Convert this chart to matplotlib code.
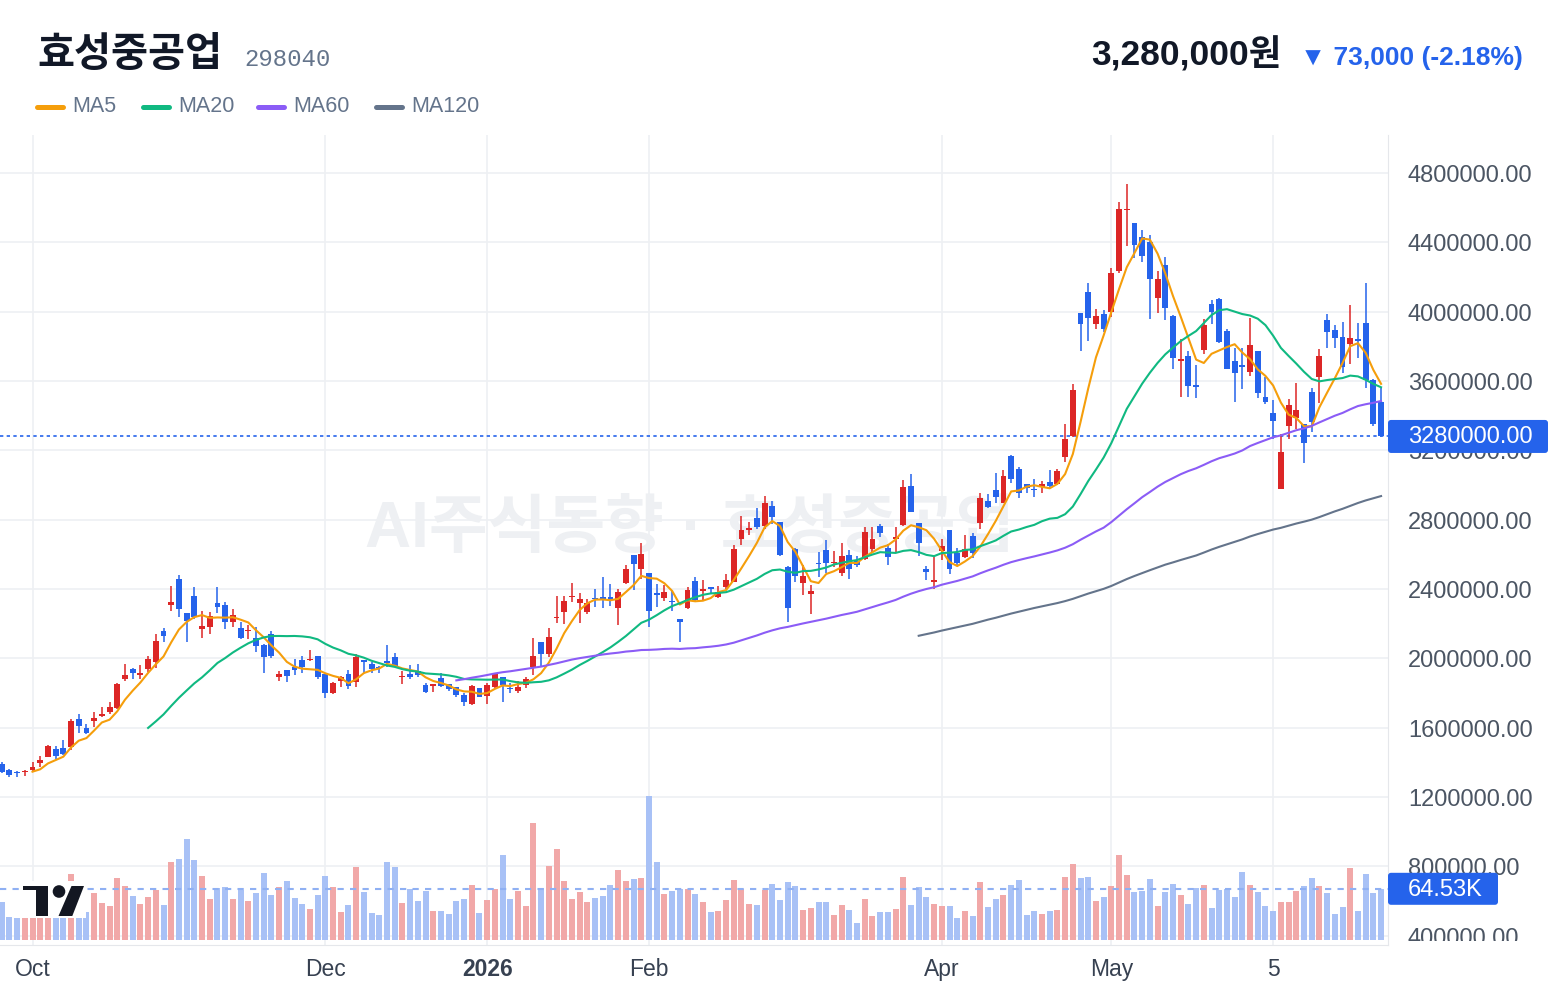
import numpy as np
import pandas as pd
import matplotlib
matplotlib.use("Agg")
import matplotlib.pyplot as plt
from matplotlib.patches import FancyBboxPatch, Rectangle, Circle, Polygon
from matplotlib.lines import Line2D
from matplotlib.transforms import Affine2D

plt.rcParams['font.family'] = ['Liberation Sans', 'Noto Sans CJK KR', 'DejaVu Sans']

# daily candles, prices in thousand KRW
opens = [
    1390, 1355, 1344, 1344, 1355, 1395, 1430, 1476, 1482, 1488,
    1649, 1597, 1638, 1667, 1690, 1713, 1880, 1938, 1903, 1938,
    1978, 2157, 2307, 2457, 2261, 2359, 2169, 2180, 2319, 2307,
    2209, 2174, 2157, 2117, 2076, 2140, 1892, 1932, 1949, 1990,
    1990, 2013, 1909, 1799, 1869, 1909, 1863, 1990, 1967, 1949,
    1984, 2007, 1892, 1909, 1927, 1846, 1843, 1886, 1851, 1834,
    1788, 1736, 1828, 1782, 1834, 1892, 1828, 1811, 1846, 1949,
    2094, 2024, 2232, 2267, 2353, 2319, 2267, 2347, 2353, 2353,
    2290, 2434, 2596, 2515, 2492, 2376, 2347, 2330, 2226, 2290,
    2446, 2388, 2411, 2353, 2411, 2440, 2688, 2740, 2809, 2763,
    2878, 2786, 2527, 2630, 2434, 2371, 2550, 2625, 2550, 2492,
    2596, 2561, 2573, 2630, 2763, 2636, 2688, 2769, 2994, 2780,
    2515, 2440, 2619, 2740, 2607, 2584, 2706, 2780, 2907, 2971,
    2896, 3167, 3092, 3005, 2977, 2988, 3017, 3005, 3161, 3282,
    3992, 4113, 3929, 3986, 3998, 4234, 4587, 4512, 4431, 4402,
    4079, 4269, 3975, 3715, 3744, 3577, 3779, 4044, 4073, 3888,
    3715, 3692, 3652, 3773, 3508, 3415, 2977, 3340, 3386, 3352,
    3536, 3623, 3952, 3894, 3854, 3813, 3842, 3935, 3606, 3479,
]
highs = [
    1401, 1361, 1350, 1355, 1401, 1436, 1497, 1494, 1528, 1649,
    1678, 1621, 1690, 1719, 1747, 1857, 1967, 1944, 1961, 2013,
    2140, 2174, 2417, 2480, 2261, 2411, 2272, 2267, 2411, 2324,
    2284, 2209, 2192, 2180, 2080, 2157, 1927, 1935, 1996, 2013,
    2048, 2015, 1911, 1863, 1898, 1932, 2024, 1992, 1978, 1955,
    2076, 2030, 1927, 1961, 1967, 1857, 1851, 1915, 1853, 1836,
    1799, 1846, 1830, 1857, 1915, 1894, 1857, 1869, 1892, 2117,
    2096, 2174, 2359, 2359, 2434, 2376, 2342, 2399, 2469, 2428,
    2399, 2538, 2598, 2665, 2494, 2428, 2423, 2388, 2228, 2411,
    2469, 2451, 2413, 2417, 2486, 2653, 2821, 2786, 2867, 2936,
    2907, 2788, 2532, 2636, 2538, 2423, 2613, 2682, 2619, 2665,
    2625, 2590, 2757, 2757, 2775, 2659, 2757, 3028, 3063, 2782,
    2532, 2590, 2688, 2742, 2636, 2711, 2723, 2953, 2948, 3069,
    3086, 3173, 3104, 3007, 3034, 3023, 3086, 3092, 3352, 3582,
    3994, 4165, 4015, 4009, 4252, 4633, 4737, 4514, 4471, 4442,
    4234, 4315, 3981, 3842, 3773, 3692, 3958, 4067, 4079, 3900,
    3790, 3790, 3963, 3775, 3623, 3490, 3294, 3496, 3588, 3354,
    3559, 3784, 3986, 3923, 3940, 4038, 3935, 4165, 3611, 3565,
]
lows = [
    1338, 1315, 1315, 1321, 1344, 1372, 1428, 1419, 1442, 1470,
    1569, 1563, 1603, 1661, 1678, 1707, 1869, 1880, 1880, 1921,
    1944, 2094, 2272, 2238, 2094, 2226, 2117, 2140, 2261, 2169,
    2180, 2111, 2111, 2036, 1915, 2001, 1869, 1863, 1903, 1915,
    1984, 1880, 1771, 1794, 1834, 1822, 1834, 1915, 1915, 1915,
    1949, 1953, 1851, 1880, 1892, 1799, 1805, 1834, 1811, 1776,
    1724, 1733, 1774, 1736, 1828, 1747, 1799, 1799, 1828, 1903,
    1955, 2007, 2203, 2197, 2324, 2203, 2255, 2296, 2290, 2301,
    2192, 2428, 2394, 2457, 2180, 2296, 2330, 2272, 2094, 2284,
    2330, 2336, 2376, 2347, 2399, 2438, 2653, 2711, 2746, 2746,
    2775, 2590, 2209, 2440, 2365, 2255, 2469, 2492, 2527, 2475,
    2457, 2527, 2567, 2613, 2700, 2538, 2607, 2763, 2842, 2590,
    2451, 2399, 2567, 2486, 2532, 2579, 2579, 2746, 2867, 2896,
    2894, 3011, 2925, 2953, 2930, 2953, 2982, 2999, 3132, 3277,
    3773, 3831, 3900, 3883, 3969, 4223, 4379, 4310, 4287, 3958,
    3992, 3952, 3669, 3508, 3508, 3502, 3756, 3929, 3819, 3667,
    3479, 3554, 3629, 3502, 3467, 3265, 2975, 3265, 3323, 3127,
    3305, 3473, 3790, 3790, 3646, 3698, 3733, 3559, 3338, 3275,
]
closes = [
    1344, 1326, 1338, 1350, 1372, 1413, 1494, 1436, 1447, 1638,
    1609, 1569, 1655, 1678, 1719, 1851, 1903, 1915, 1915, 1996,
    2099, 2128, 2324, 2284, 2215, 2238, 2186, 2244, 2296, 2209,
    2249, 2117, 2163, 2071, 2007, 2013, 1909, 1898, 1932, 1949,
    1996, 1892, 1799, 1857, 1892, 1840, 2007, 1978, 1938, 1944,
    1973, 1955, 1898, 1892, 1903, 1805, 1848, 1840, 1822, 1788,
    1747, 1840, 1776, 1846, 1909, 1846, 1822, 1834, 1880, 2013,
    2024, 2123, 2238, 2330, 2359, 2342, 2319, 2342, 2336, 2336,
    2382, 2515, 2544, 2602, 2272, 2365, 2382, 2324, 2209, 2394,
    2336, 2399, 2399, 2382, 2451, 2630, 2740, 2752, 2757, 2896,
    2815, 2596, 2290, 2475, 2475, 2388, 2544, 2550, 2556, 2590,
    2515, 2538, 2729, 2688, 2723, 2584, 2700, 2988, 2844, 2665,
    2498, 2451, 2648, 2515, 2550, 2630, 2607, 2925, 2873, 2930,
    3052, 3034, 2953, 2982, 2971, 3005, 2994, 3080, 3265, 3548,
    3929, 3963, 3975, 3900, 4223, 4592, 4592, 4385, 4321, 4188,
    4188, 4021, 3733, 3727, 3571, 3565, 3923, 3998, 3825, 3669,
    3646, 3681, 3808, 3531, 3479, 3369, 3190, 3461, 3433, 3242,
    3363, 3744, 3883, 3848, 3681, 3848, 3831, 3606, 3353, 3280,
]
# volume in thousand shares
volumes = [
    47.6, 28.5, 27.2, 40, 46, 48, 44, 32, 38, 83.7,
    40, 35, 59, 46, 42.5, 78, 68, 55, 45, 54,
    63, 44, 98.6, 102, 128, 101, 81, 51, 65, 67,
    51, 63, 49, 59, 85, 56.5, 67, 74, 53, 45,
    38.7, 56.5, 81, 67, 35, 44, 92, 60, 33.6, 31,
    98.6, 92, 46, 64, 49, 61.6, 36, 36, 32, 49,
    51, 69, 33.6, 50, 64, 107.5, 51, 61.6, 42.5, 148,
    65, 93.5, 115, 74, 51, 60, 47.6, 53, 55, 69,
    88, 74, 77, 78, 183, 98.6, 58, 61.6, 64, 64,
    58, 47.6, 35, 36, 50, 75.6, 64, 45, 44, 63,
    70.5, 50, 73, 68, 37.4, 40, 47.6, 47.6, 31, 44,
    37.4, 20.8, 51, 30, 35, 35, 38.7, 79.5, 44, 67,
    54, 45, 42.5, 42.5, 27, 36, 30, 73, 41, 51,
    56.5, 69, 75.6, 31, 36, 32, 36, 37.4, 79.5, 96,
    78, 79.5, 49, 54, 68, 107.5, 82, 60, 61.6, 77,
    42.5, 60, 70.5, 56.5, 45, 65, 69, 40, 63, 64,
    54, 86, 69, 60, 42.5, 36, 47.6, 47.6, 61.6, 68,
    78, 68, 59, 32, 41, 91, 36, 83, 59, 64.53,
]

ma_periods = [5, 20, 60, 120]
ma_colors = ['#f59e0b', '#10b981', '#8b5cf6', '#64748b']
date_pos = [4, 42, 63, 84, 122, 144, 165]
date_labels = ['Oct', 'Dec', '2026', 'Feb', 'Apr', 'May', '5']
price_ticks = list(range(400000, 4800001, 400000))
stock_name = '효성중공업'
stock_code = '298040'
watermark = 'AI주식동향 · 효성중공업'

o = np.array(opens) * 1000.0
h = np.array(highs) * 1000.0
l = np.array(lows) * 1000.0
c = np.array(closes) * 1000.0
v = np.array(volumes) * 1000.0
x = np.arange(len(c))

RED, BLUE = '#dc2626', '#2563eb'
up = c >= o
cols = np.where(up, RED, BLUE)
vcols = np.where(up, '#f1a8a8', '#a8c1f6')

W, H = 1560, 996
fig = plt.figure(figsize=(W / 100, H / 100), dpi=100, facecolor='white')
pxT = Affine2D().scale(1 / W, -1 / H).translate(0, 1) + fig.transFigure


def rect(x0, y0, x1, y1):
    return [x0 / W, 1 - y1 / H, (x1 - x0) / W, (y1 - y0) / H]


ax = fig.add_axes(rect(0, 135, 1388, 945))
ybot, ytop = 345950, 5019240
ax.set_xlim(-0.22, 179.9)
ax.set_ylim(ybot, ytop)

# candles
ax.vlines(x, l, h, colors=cols, lw=1.1, zorder=3)
body = np.maximum(np.abs(c - o), 6000)
ax.bar(x, body, bottom=np.minimum(o, c), width=0.76, color=cols, linewidth=0, zorder=3)

# moving averages
for n, col in zip(ma_periods, ma_colors):
    ma = pd.Series(c).rolling(n).mean()
    ax.plot(x, ma, color=col, lw=1.5, zorder=4)

ax.axhline(c[-1], color=BLUE, lw=1.2, ls=(0, (2, 2)), zorder=2.5)

ax.text(89.3, 2740000, watermark, ha='center', va='center', fontsize=46,
        fontweight='bold', color='#eef0f3', zorder=1)

ax.set_yticks(price_ticks)
ax.set_xticks(date_pos)
ax.set_xticklabels(date_labels)
ax.grid(True, color='#eef0f3', lw=1.2)
ax.set_axisbelow(True)
ax.tick_params(axis='y', length=0, labelleft=False)
ax.tick_params(axis='x', length=0, pad=9, labelsize=16.5, labelcolor='#374151')
ax.get_xticklabels()[2].set_fontweight('bold')
for s in ['top', 'left']:
    ax.spines[s].set_visible(False)
for s in ['right', 'bottom']:
    ax.spines[s].set_color('#e5e7eb')

# volume overlay
axv = ax.twinx()
axv.set_ylim(-7000, 1024000)
axv.bar(x, v, width=0.78, color=vcols, linewidth=0, zorder=2)
axv.axhline(v[-1], color='#8fb0f3', lw=1.5, ls=(0, (3, 3)))
axv.axis('off')

# right price scale
spp = (ytop - ybot) / 810
rax = fig.add_axes(rect(1388, 135, 1560, 941))
rax.set_xlim(0, 172)
rax.set_ylim(ybot + 4 * spp, ytop)
rax.axis('off')
for t in price_ticks:
    rax.text(20, t - 3 * spp, f'{t:.2f}', ha='left', va='center', fontsize=17,
             color='#4b5563', clip_on=True)

fig.canvas.draw()
py_price = H - ax.transData.transform((0, c[-1]))[1]
py_vol = H - axv.transData.transform((0, v[-1]))[1]

fig.add_artist(FancyBboxPatch((1388, py_price - 16.5), 160, 33,
                              boxstyle='round,pad=0,rounding_size=3',
                              transform=pxT, fc=BLUE, ec='none'))
fig.text(1408, py_price + 1, f'{c[-1]:.2f}', transform=pxT, ha='left', va='center',
         fontsize=17, color='white')
fig.add_artist(FancyBboxPatch((1388, py_vol - 16), 110, 32,
                              boxstyle='round,pad=0,rounding_size=3',
                              transform=pxT, fc=BLUE, ec='none'))
fig.text(1408, py_vol + 1, f'{v[-1] / 1000:.2f}K', transform=pxT, ha='left', va='center',
         fontsize=17, color='white')

# TradingView logo
fig.add_artist(Rectangle((22, 881), 64, 37, transform=pxT, fc='white', ec='none'))
fig.add_artist(Polygon([(23, 886), (48, 886), (48, 916), (36, 916), (36, 890), (23, 890)],
                       closed=True, transform=pxT, fc='#131722', ec='none'))
fig.add_artist(Circle((59, 891.5), 6.3, transform=pxT, fc='#131722', ec='none'))
fig.add_artist(Polygon([(71.5, 886), (84, 886), (72.3, 916), (58.5, 916)],
                       closed=True, transform=pxT, fc='#131722', ec='none'))

# header
fig.text(37, 55, stock_name, transform=pxT, ha='left', va='center', fontsize=29,
         fontweight='bold', color='#111827', family='Noto Sans CJK KR')
fig.text(244, 59, stock_code, transform=pxT, ha='left', va='center', fontsize=17.3,
         color='#64748b', family='Liberation Mono')

chg = c[-1] - c[-2]
pct = chg / c[-2] * 100
fig.text(1282, 55, f'{c[-1]:,.0f}원', transform=pxT, ha='right', va='center',
         fontsize=25.5, fontweight='bold', color='#111827')
fig.text(1523, 58, f'▼ {abs(chg):,.0f} ({pct:.2f}%)', transform=pxT, ha='right',
         va='center', fontsize=19, fontweight='bold', color=BLUE,
         family=['Liberation Sans', 'DejaVu Sans'])

# legend
leg_x = [37, 143, 258, 376]
for lx, n, col in zip(leg_x, ma_periods, ma_colors):
    fig.add_artist(Line2D([lx, lx + 26], [107, 107], transform=pxT, color=col,
                          lw=3.6, solid_capstyle='round'))
    fig.text(lx + 35, 107, f'MA{n}', transform=pxT, ha='left', va='center',
             fontsize=15.5, color='#64748b')

fig.savefig('out.png', dpi=100, facecolor='white')
